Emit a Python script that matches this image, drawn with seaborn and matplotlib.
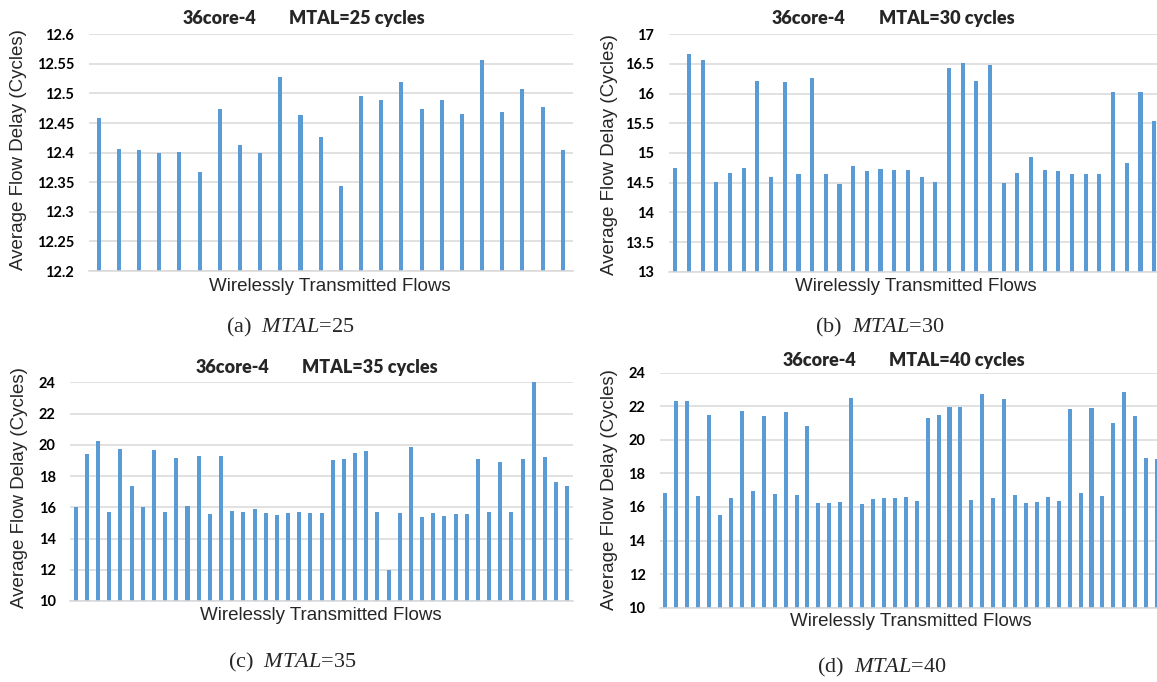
import matplotlib
matplotlib.use("Agg")
import matplotlib.pyplot as plt
import seaborn as sns
import pandas as pd

# ---------------- data ----------------
delay_25 = [12.458, 12.406, 12.405, 12.400, 12.401, 12.367, 12.474, 12.413, 12.399,
            12.528, 12.463, 12.427, 12.343, 12.496, 12.489, 12.520, 12.473, 12.489,
            12.465, 12.557, 12.469, 12.507, 12.477, 12.405]
delay_30 = [14.74, 16.67, 16.56, 14.51, 14.67, 14.74, 16.22, 14.60, 16.19, 14.65,
            16.27, 14.65, 14.47, 14.78, 14.70, 14.73, 14.71, 14.71, 14.59, 14.51,
            16.44, 16.52, 16.22, 16.48, 14.50, 14.67, 14.93, 14.71, 14.69, 14.65,
            14.65, 14.64, 16.02, 14.83, 16.02, 15.54]
delay_35 = [16.02, 19.39, 20.27, 15.68, 19.75, 17.34, 16.02, 19.67, 15.70, 19.16,
            16.08, 19.31, 15.57, 19.28, 15.74, 15.68, 15.89, 15.61, 15.51, 15.63,
            15.72, 15.66, 15.66, 19.01, 19.11, 19.45, 19.58, 15.70, 12.00, 15.61,
            19.88, 15.40, 15.66, 15.44, 15.57, 15.57, 19.09, 15.68, 18.92, 15.72,
            19.07, 24.00, 19.20, 17.60, 17.38]
delay_40 = [16.85, 22.31, 22.31, 16.63, 21.46, 15.50, 16.53, 21.72, 16.95, 21.44,
            16.77, 21.66, 16.71, 20.80, 16.26, 16.22, 16.30, 22.47, 16.16, 16.45,
            16.51, 16.51, 16.61, 16.35, 21.30, 21.50, 21.97, 21.97, 16.39, 22.73,
            16.51, 22.41, 16.71, 16.24, 16.30, 16.59, 16.33, 21.84, 16.81, 21.88,
            16.63, 20.98, 22.85, 21.40, 18.90, 18.84]

ticks_25 = [12.2, 12.25, 12.3, 12.35, 12.4, 12.45, 12.5, 12.55, 12.6]
labels_25 = ["12.2", "12.25", "12.3", "12.35", "12.4", "12.45", "12.5", "12.55", "12.6"]
ticks_30 = [13, 13.5, 14, 14.5, 15, 15.5, 16, 16.5, 17]
labels_30 = ["13", "13.5", "14", "14.5", "15", "15.5", "16", "16.5", "17"]
ticks_35 = [10, 12, 14, 16, 18, 20, 22, 24]
labels_35 = ["10", "12", "14", "16", "18", "20", "22", "24"]
ticks_40 = [10, 12, 14, 16, 18, 20, 22, 24]
labels_40 = ["10", "12", "14", "16", "18", "20", "22", "24"]

mtal_values = [25, 30, 35, 40]
panel_letters = ["a", "b", "c", "d"]
title_left = "36core-4"
ylabel_text = "Average Flow Delay (Cycles)"
xlabel_text = "Wirelessly Transmitted Flows"

# ---------------- style ----------------
sns.set_theme(style="white")
plt.rcParams["font.family"] = ["Liberation Sans", "DejaVu Sans"]
plt.rcParams["mathtext.fontset"] = "custom"
plt.rcParams["mathtext.rm"] = "Liberation Serif"
plt.rcParams["mathtext.it"] = "Liberation Serif:italic"

W, H = 1157, 682
fig = plt.figure(figsize=(W / 100, H / 100), dpi=100)

BLUE = "#5b9bd5"
GRID = "#d9d9d9"

def px_axes(left, right, top, bottom):
    return [left / W, 1 - bottom / H, (right - left) / W, (bottom - top) / H]

panels = [
    dict(data=delay_25, ticks=ticks_25, labels=labels_25, box=(88.7, 572.8, 34.3, 271.0), width=0.2,
         t_right=256, t_left=289, t_y=18.5, yl_x=19, yl_y=150, xl_x=330, xl_y=286,
         cap_x=290, cap_y=327),
    dict(data=delay_30, ticks=ticks_30, labels=labels_30, box=(668.5, 1161.0, 34.3, 271.7), width=0.3,
         t_right=845.7, t_left=878.9, t_y=18.5, yl_x=609, yl_y=155, xl_x=916, xl_y=286,
         cap_x=880, cap_y=327),
    dict(data=delay_35, ticks=ticks_35, labels=labels_35, box=(70.2, 572.9, 382.3, 601.0), width=0.36,
         t_right=269, t_left=301.5, t_y=367.3, yl_x=20, yl_y=488, xl_x=321, xl_y=615.5,
         cap_x=292, cap_y=662),
    dict(data=delay_40, ticks=ticks_40, labels=labels_40, box=(660.0, 1162.5, 372.7, 607.7), width=0.37,
         t_right=856.8, t_left=889, t_y=360.7, yl_x=609, yl_y=490, xl_x=911, xl_y=621.5,
         cap_x=881.5, cap_y=667),
]

for p, mtal, letter in zip(panels, mtal_values, panel_letters):
    vals = p["data"]
    n = len(vals)
    df = pd.DataFrame({"flow": list(range(n)), "delay": vals})
    ax = fig.add_axes(px_axes(*p["box"]))
    sns.barplot(data=df, x="flow", y="delay", color=BLUE, saturation=1,
                width=p["width"], ax=ax, linewidth=0)
    ax.set_xlim(-0.5, n - 0.5)
    ax.set_ylim(p["ticks"][0], p["ticks"][-1])
    ax.set_yticks(p["ticks"])
    ax.set_yticklabels(p["labels"], fontfamily="Lato", fontweight="bold", fontsize=10.5, color="#000000")
    ax.set_xticks([])
    ax.set_xlabel("")
    ax.set_ylabel("")
    ax.tick_params(axis="y", length=0, pad=10.5)
    ax.yaxis.grid(True, color=GRID, linewidth=1.1)
    ax.set_axisbelow(True)
    for s in ["top", "right", "left"]:
        ax.spines[s].set_visible(False)
    ax.spines["bottom"].set_color(GRID)
    ax.spines["bottom"].set_linewidth(1.1)

    # title (two parts)
    fig.text(p["t_right"] / W, 1 - p["t_y"] / H, title_left, ha="right", va="center",
             fontfamily="Lato", fontweight="heavy", fontsize=13)
    fig.text(p["t_left"] / W, 1 - p["t_y"] / H, f"MTAL={mtal} cycles", ha="left", va="center",
             fontfamily="Lato", fontweight="heavy", fontsize=13)
    # axis labels
    fig.text(p["yl_x"] / W, 1 - p["yl_y"] / H, ylabel_text, rotation=90, ha="center", va="center",
             fontsize=13.5)
    fig.text(p["xl_x"] / W, 1 - p["xl_y"] / H, xlabel_text, ha="center", va="center",
             fontsize=13.5)
    # caption
    fig.text(p["cap_x"] / W, 1 - p["cap_y"] / H, f"({letter})  $MTAL$={mtal}", ha="center", va="center",
             fontfamily="Liberation Serif", fontsize=16)

fig.savefig("out.png", dpi=100)
